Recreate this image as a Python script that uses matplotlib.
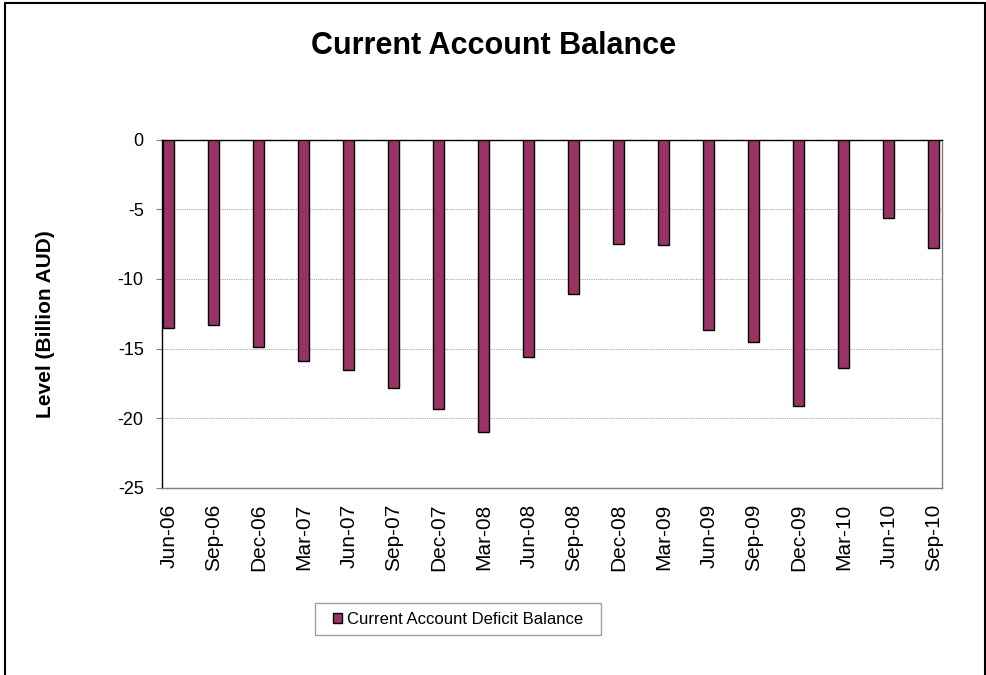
import numpy as np
import matplotlib
matplotlib.use("Agg")
import matplotlib.pyplot as plt
from matplotlib.patches import Patch, Rectangle

plt.rcParams['font.family'] = ['Liberation Sans', 'DejaVu Sans']

# quarterly current account balance (billion AUD)
quarters = ['Jun-06', 'Sep-06', 'Dec-06', 'Mar-07', 'Jun-07', 'Sep-07',
            'Dec-07', 'Mar-08', 'Jun-08', 'Sep-08', 'Dec-08', 'Mar-09',
            'Jun-09', 'Sep-09', 'Dec-09', 'Mar-10', 'Jun-10', 'Sep-10']
balance = [-13.5, -13.3, -14.9, -15.9, -16.5, -17.8,
           -19.3, -21.0, -15.6, -11.1, -7.5, -7.6,
           -13.7, -14.5, -19.1, -16.4, -5.6, -7.8]
series_name = 'Current Account Deficit Balance'
y_ticks = [0, -5, -10, -15, -20, -25]

W, H = 987, 675
fig = plt.figure(figsize=(W / 100, H / 100), dpi=100)
ax = fig.add_axes([161.7 / W, 1 - 488 / H, 780 / W, 348.5 / H])

x = np.arange(len(quarters))
ax.bar(x, balance, width=0.25, color='#993366', edgecolor='black',
       linewidth=1, zorder=3)

ax.set_xlim(-0.156, len(quarters) - 1 + 0.176)
ax.set_ylim(-25, 0)
ax.set_yticks(y_ticks)
ax.set_yticklabels([str(v) for v in y_ticks], fontsize=13)
ax.set_xticks(x)
ax.set_xticklabels(quarters, rotation=90, fontsize=15)
ax.tick_params(axis='x', length=0, pad=11)
ax.tick_params(axis='y', length=4, color='#808080', pad=9)

ax.yaxis.grid(True, color='#a8a8a8', linestyle=(0, (1, 1)), linewidth=0.8, zorder=0)
ax.set_axisbelow(True)

ax.spines['top'].set_color('black')
ax.spines['left'].set_color('black')
ax.spines['right'].set_color('#808080')
ax.spines['bottom'].set_color('#808080')
for s in ax.spines.values():
    s.set_linewidth(1)

fig.text(494 / W, 1 - 46 / H, 'Current Account Balance', fontsize=22,
         fontweight='bold', ha='center', va='center')
fig.text(46 / W, 1 - 324 / H, 'Level (Billion AUD)', fontsize=15,
         fontweight='bold', rotation=90, ha='center', va='center')

# legend box
fig.patches.append(Rectangle((315 / W, 1 - 635 / H), 285.7 / W, 31.7 / H,
                             transform=fig.transFigure, facecolor='white',
                             edgecolor='#a0a0a0', linewidth=1))
handle = Patch(facecolor='#993366', edgecolor='black', linewidth=1)
fig.legend([handle], [series_name], loc='center', frameon=False,
           bbox_to_anchor=(458 / W, 1 - 619.2 / H), fontsize=12,
           handlelength=0.55, handleheight=0.55, handletextpad=0.25,
           borderpad=0)

# outer chart border
fig.patches.append(Rectangle((5 / W, -0.05), 980 / W, 1.05 - 2.5 / H,
                             transform=fig.transFigure, fill=False,
                             edgecolor='black', linewidth=1.5))

fig.savefig('out.png', dpi=100)
